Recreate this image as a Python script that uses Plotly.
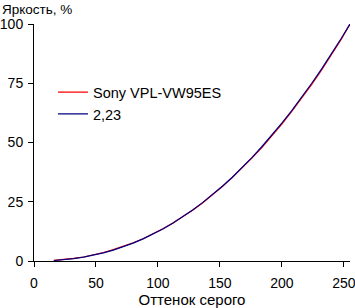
import plotly.graph_objects as go

# Grey level (input) values
gray = [16, 24, 32, 40, 48, 56, 64, 72, 80, 88, 96, 104, 112, 120, 128, 136, 144,
        152, 160, 168, 176, 184, 192, 200, 208, 216, 224, 232, 240, 248, 255]
# Measured brightness, Sony VPL-VW95ES (%)
sony = [0.3, 0.6, 1.1, 1.7, 2.6, 3.6, 4.8, 6.2, 7.7, 9.4, 11.4, 13.6, 16.0, 18.6, 21.4,
        24.5, 27.8, 31.4, 35.2, 39.2, 43.5, 48.0, 52.8, 57.8, 63.1, 68.6, 74.4, 80.5, 86.9, 93.6, 100]
# Reference gamma 2.23 curve (%)
gamma = [0.21, 0.51, 0.98, 1.61, 2.41, 3.40, 4.58, 5.96, 7.54, 9.32, 11.32, 13.53, 15.96,
         18.62, 21.50, 24.62, 27.96, 31.54, 35.36, 39.43, 43.75, 48.31, 53.10, 58.18,
         63.49, 69.06, 74.89, 80.99, 87.36, 93.98, 100]

xticks = [0, 50, 100, 150, 200, 250]
yticks = [0, 25, 50, 75, 100]

fig = go.Figure()
fig.add_trace(go.Scatter(x=gray, y=sony, mode="lines", name="Sony VPL-VW95ES",
                         line=dict(color="#ff0000", width=1.2)))
fig.add_trace(go.Scatter(x=gray, y=gamma, mode="lines", name="2,23",
                         line=dict(color="#000080", width=1.2)))

FAM = "Liberation Sans, Arial, sans-serif"
font = dict(family=FAM, size=13.5, color="#000000")
legfont = dict(family=FAM, size=14.5, color="#000000")
titlefont = dict(family=FAM, size=15, color="#000000")
tickfont = dict(family=FAM, size=14, color="#000000")

fig.update_layout(
    width=355, height=308,
    margin=dict(l=34, r=5, t=24, b=47),
    paper_bgcolor="white", plot_bgcolor="white",
    font=font,
    showlegend=True,
    legend=dict(x=0.06, y=0.78, xanchor="left", yanchor="top",
                bgcolor="rgba(0,0,0,0)", font=legfont, tracegroupgap=0,
                itemwidth=30),
    xaxis=dict(range=[0, 255], tickvals=xticks, showgrid=False, zeroline=False,
               showline=True, linecolor="black", linewidth=1, automargin=False,
               ticks="outside", ticklen=5, tickcolor="black", tickfont=tickfont,
               ticklabelstandoff=4, ticklabeloverflow="allow",
               title=dict(text="Оттенок серого", font=titlefont, standoff=2)),
    yaxis=dict(range=[0, 100], tickvals=yticks, showgrid=False, zeroline=False,
               showline=True, linecolor="black", linewidth=1, automargin=False,
               ticks="outside", ticklen=5, tickcolor="black", tickfont=tickfont,
               ticklabelstandoff=2, ticklabeloverflow="allow"),
    annotations=[dict(text="Яркость, %", xref="paper", yref="paper",
                      x=-34/316, y=1 + 24/237, xanchor="left", yanchor="top",
                      showarrow=False, font=font)],
)

fig.write_html("out.html")
